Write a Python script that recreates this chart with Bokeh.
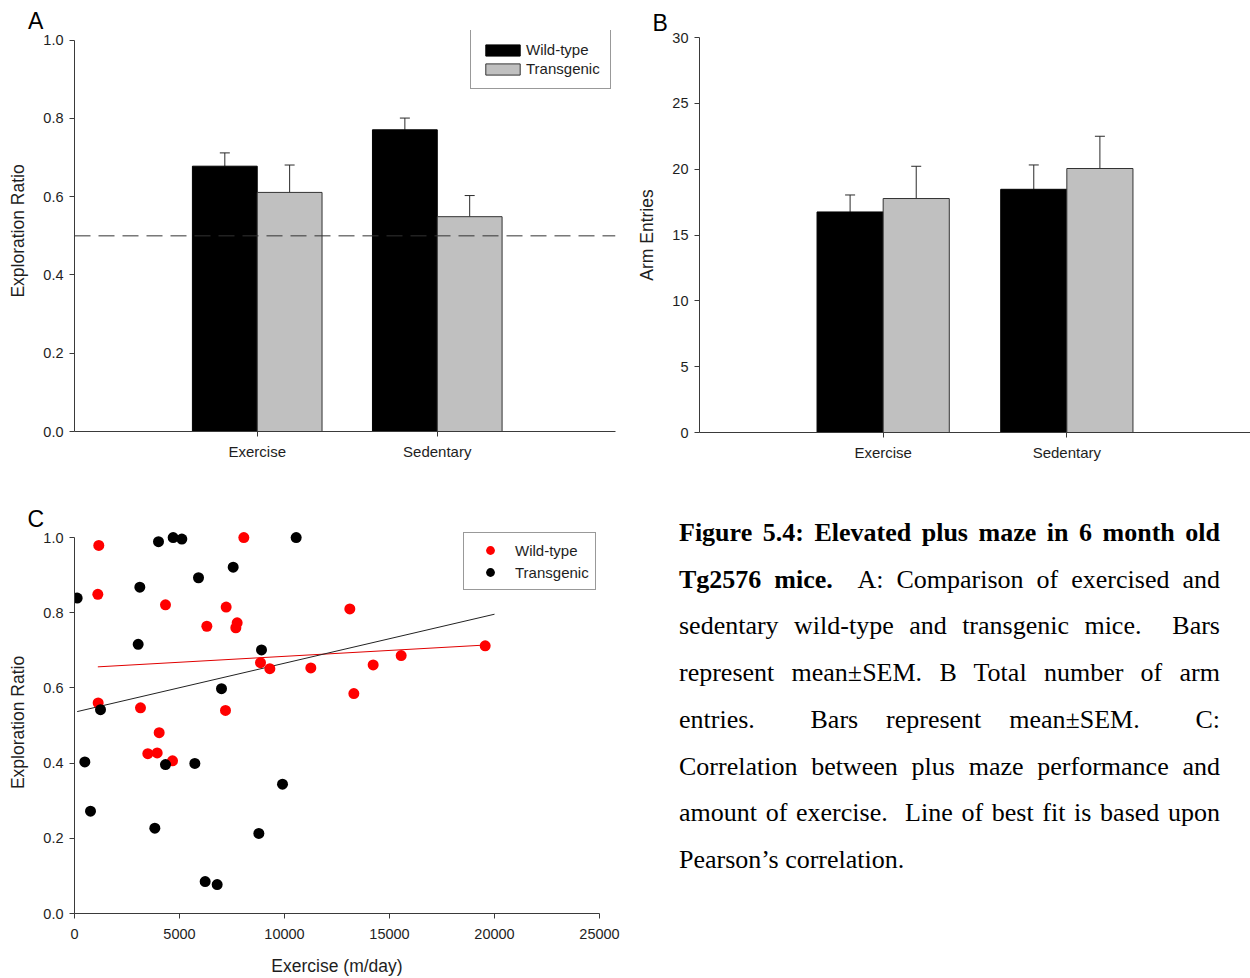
import numpy as np
from bokeh.plotting import figure
from bokeh.models import (Range1d, FixedTicker, Span, Whisker, TeeHead, ColumnDataSource,
                          Legend, LegendItem, Div, PrintfTickFormatter)
from bokeh.layouts import row, column
from bokeh.embed import file_html
from bokeh.resources import INLINE

# ---------------- data ----------------
groups = ["Exercise", "Sedentary"]

# Panel A: exploration ratio (mean, SEM)
ratio_wt = [0.678, 0.771]
ratio_wt_sem = [0.034, 0.030]
ratio_tg = [0.611, 0.549]
ratio_tg_sem = [0.070, 0.054]
chance_level = 0.5
ratio_ticks = [0.0, 0.2, 0.4, 0.6, 0.8, 1.0]

# Panel B: arm entries (mean, SEM)
entries_wt = [16.75, 18.47]
entries_wt_sem = [1.29, 1.85]
entries_tg = [17.77, 20.05]
entries_tg_sem = [2.45, 2.45]
entries_ticks = [0, 5, 10, 15, 20, 25, 30]

# Panel C: individual animals, exercise (m/day) vs exploration ratio
wt_exercise = [1157, 1111, 4333, 8063, 7222, 6302, 7746, 7683, 8857, 9302, 11254,
               1127, 3143, 7190, 4032, 13111, 14222, 15556, 19556, 13302, 3492, 3937, 4667]
wt_ratio = [0.979, 0.849, 0.821, 1.000, 0.815, 0.764, 0.773, 0.760, 0.667, 0.651, 0.653,
            0.560, 0.547, 0.540, 0.481, 0.810, 0.661, 0.686, 0.712, 0.585, 0.425, 0.427, 0.406]
tg_exercise = [127, 4000, 4698, 5111, 10556, 7556, 5905, 3111, 3032, 8905, 7000,
               1238, 4333, 5730, 492, 762, 3825, 9905, 8778, 6222, 6794]
tg_ratio = [0.839, 0.989, 1.000, 0.996, 1.000, 0.921, 0.893, 0.868, 0.716, 0.701, 0.598,
            0.542, 0.396, 0.399, 0.403, 0.272, 0.227, 0.344, 0.213, 0.085, 0.077]
# lines of best fit (end points)
wt_fit_x = [1111, 19556]
wt_fit_y = [0.656, 0.714]
tg_fit_x = [127, 20000]
tg_fit_y = [0.537, 0.796]
exercise_ticks = [0, 5000, 10000, 15000, 20000, 25000]

# ---------------- style ----------------
SANS = "Liberation Sans"
TEXT = "#1e1e1e"
AXIS = "#3a3a3a"
GREY = "#c0c0c0"


def style(p, tick_size="15px"):
    p.outline_line_color = None
    p.background_fill_color = "white"
    p.border_fill_color = "white"
    p.xgrid.visible = False
    p.ygrid.visible = False
    for ax in p.axis:
        ax.axis_line_color = AXIS
        ax.major_tick_line_color = AXIS
        ax.major_tick_out = 5
        ax.major_tick_in = 0
        ax.minor_tick_line_color = None
        ax.major_label_text_font = SANS
        ax.major_label_text_font_size = tick_size
        ax.major_label_text_color = TEXT
        ax.axis_label_text_font = SANS
        ax.axis_label_text_font_size = "17.5px"
        ax.axis_label_text_font_style = "normal"
        ax.axis_label_text_color = TEXT
        ax.major_label_standoff = 6


def panel_letter(p, letter, offset, standoff):
    p.title.text = letter
    p.title.align = "left"
    p.title.offset = offset
    p.title.standoff = standoff
    p.title.text_font = SANS
    p.title.text_font_size = "23px"
    p.title.text_font_style = "normal"
    p.title.text_color = "black"


def bar_panel(wt, wt_sem, tg, tg_sem, y_end, y_top, y_ticks, y_label, x_range, height,
              border_left, border_right, border_top, border_bottom):
    p = figure(width=625, height=height, output_backend="svg", toolbar_location=None,
               x_range=Range1d(*x_range), y_range=Range1d(0, y_top),
               min_border_left=border_left, min_border_right=border_right,
               min_border_top=border_top, min_border_bottom=border_bottom)
    pos = np.arange(len(groups)) + 1.0
    bw = 0.36
    src_wt = ColumnDataSource(dict(x=pos - bw / 2, top=wt,
                                   hi=np.array(wt) + np.array(wt_sem)))
    src_tg = ColumnDataSource(dict(x=pos + bw / 2, top=tg,
                                   hi=np.array(tg) + np.array(tg_sem)))
    r_wt = p.vbar(x="x", top="top", width=bw, bottom=0, source=src_wt,
                  fill_color="black", line_color="black", line_width=1)
    r_tg = p.vbar(x="x", top="top", width=bw, bottom=0, source=src_tg,
                  fill_color=GREY, line_color="#333333", line_width=1)
    for src in (src_wt, src_tg):
        w = Whisker(base="x", lower="top", upper="hi", source=src,
                    line_color="#2a2a2a", line_width=1, lower_head=None,
                    upper_head=TeeHead(size=10, line_color="#2a2a2a", line_width=1))
        p.add_layout(w)
    p.xaxis.ticker = FixedTicker(ticks=list(pos))
    overrides = {float(v): g for v, g in zip(pos, groups)}
    overrides.update({int(v): g for v, g in zip(pos, groups)})
    p.xaxis.major_label_overrides = overrides
    p.yaxis.ticker = FixedTicker(ticks=y_ticks)
    p.yaxis.bounds = (0, y_end)
    p.yaxis.axis_label = y_label
    style(p)
    p.yaxis.major_label_text_font_size = "14.5px"
    p.yaxis.axis_label_standoff = 12
    return p, r_wt, r_tg


# ---------------- panel A ----------------
pA, a_wt, a_tg = bar_panel(ratio_wt, ratio_wt_sem, ratio_tg, ratio_tg_sem, 1.0, 1.0248,
                           ratio_ticks, "Exploration Ratio", (-0.015, 2.99), 441,
                           74, 10, 1, 39)
pA.yaxis.formatter = PrintfTickFormatter(format="%.1f")
pA.add_layout(Span(location=chance_level, dimension="width", line_color="#333333",
                   line_width=1, line_dash="16 8"))
legA = Legend(items=[LegendItem(label="Wild-type", renderers=[a_wt]),
                     LegendItem(label="Transgenic", renderers=[a_tg])],
              location=(396, 342), glyph_width=43, glyph_height=14, label_height=19,
              label_standoff=2, spacing=0, padding=10, margin=0,
              border_line_color="#333333", border_line_width=1,
              label_text_font=SANS, label_text_font_size="15px", label_text_color=TEXT,
              background_fill_color="white", background_fill_alpha=1.0)
pA.add_layout(legA)
letterA = Div(text="<div style=\"font-family:'Liberation Sans',sans-serif;font-size:23px;"
                   "line-height:23px;padding-top:10px;padding-left:28px;color:#000;\">A</div>",
              width=625, height=29, styles={"margin": "0", "padding": "0",
                                            "overflow": "visible"})

# ---------------- panel B ----------------
pB, b_wt, b_tg = bar_panel(entries_wt, entries_wt_sem, entries_tg, entries_tg_sem, 30, 30,
                           entries_ticks, "Arm Entries", (0.0, 3.0), 470, 74, 0, 37, 38)
panel_letter(pB, "B", -47, 3)

# ---------------- panel C ----------------
pC = figure(width=625, height=508, output_backend="svg", toolbar_location=None,
            x_range=Range1d(0, 25000), y_range=Range1d(0, 1.016),
            min_border_left=74, min_border_right=26, min_border_top=61, min_border_bottom=65)
c_wt_fit = pC.line(wt_fit_x, wt_fit_y, line_color="#e00000", line_width=1)
c_tg_fit = pC.line(tg_fit_x, tg_fit_y, line_color="#222222", line_width=1)
c_wt = pC.scatter(wt_exercise, wt_ratio, size=11, fill_color="#ff0000", line_color=None)
c_tg = pC.scatter(tg_exercise, tg_ratio, size=11, fill_color="black", line_color=None)
pC.xaxis.ticker = FixedTicker(ticks=exercise_ticks)
pC.yaxis.ticker = FixedTicker(ticks=ratio_ticks)
pC.yaxis.formatter = PrintfTickFormatter(format="%.1f")
pC.yaxis.bounds = (0, 1.0)
pC.xaxis.axis_label = "Exercise (m/day)"
pC.yaxis.axis_label = "Exploration Ratio"
style(pC, tick_size="14.5px")
pC.yaxis.axis_label_standoff = 12
pC.xaxis.major_label_standoff = 10
pC.xaxis.axis_label_standoff = 14
panel_letter(pC, "C", -47, 0)
legC = Legend(items=[LegendItem(label="Wild-type", renderers=[c_wt]),
                     LegendItem(label="Transgenic", renderers=[c_tg])],
              location=(389, 323), glyph_width=40, glyph_height=22, label_height=19,
              label_standoff=5, spacing=0, padding=6, margin=0,
              border_line_color="#333333", border_line_width=1,
              label_text_font=SANS, label_text_font_size="15px", label_text_color=TEXT,
              background_fill_color="white", background_fill_alpha=1.0)
pC.add_layout(legC)

# ---------------- caption ----------------
caption_lines = [
    "<b>Figure 5.4: Elevated plus maze in 6 month old</b>",
    "<b>Tg2576 mice.</b>&nbsp; A: Comparison of exercised and",
    "sedentary wild-type and transgenic mice.&nbsp; Bars",
    "represent mean\u00b1SEM. B Total number of arm",
    "entries.&nbsp; Bars represent mean\u00b1SEM.&nbsp; C:",
    "Correlation between plus maze performance and",
    "amount of exercise.&nbsp; Line of best fit is based upon",
    "Pearson\u2019s correlation.",
]
html_lines = []
for i, line in enumerate(caption_lines):
    last = "left" if i == len(caption_lines) - 1 else "justify"
    html_lines.append(
        f'<div style="width:541px;text-align:justify;text-align-last:{last};">{line}</div>')
caption_html = (
    '<div style="font-family:\'Liberation Serif\',serif;font-size:26px;line-height:46.7px;'
    'color:#000;width:541px;padding-left:54px;padding-top:40px;">'
    + "".join(html_lines) + "</div>")
caption = Div(text=caption_html, width=625, height=508,
              styles={"margin": "0", "padding": "0"})

layout = column(row(column(letterA, pA), pB), row(pC, caption))
open("out.html", "w").write(file_html(layout, INLINE))
